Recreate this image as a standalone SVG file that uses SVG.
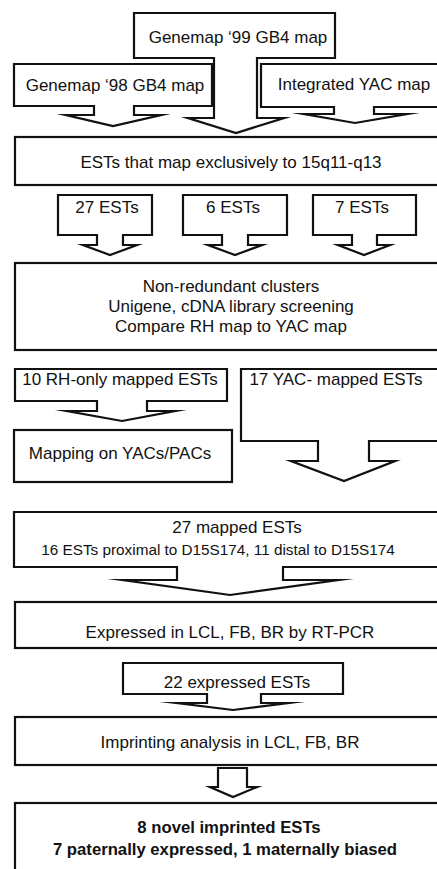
<svg xmlns="http://www.w3.org/2000/svg" width="437" height="869" viewBox="0 0 437 869">
<style>
.b{fill:#fff;stroke:#111;stroke-width:2.2;stroke-linejoin:miter;stroke-miterlimit:20}
.t{font-family:"Liberation Sans",Arial,sans-serif;font-size:17px;fill:#111;text-anchor:middle}
.bold{font-weight:bold;font-size:16.7px}
</style>
<rect width="437" height="869" fill="#fff"/>
<g id="n-genemap99">
<path class="b" d="M134,13 H335 V58 H257 V118 H284 L236,133 L188,118 H214 V58 H134 Z"/>
<text class="t" x="238" y="43">Genemap ‘99 GB4 map</text>
</g>
<g id="n-genemap98">
<path class="b" d="M14,64 H212 V106 H134 V115 H161 L113,126 L66,115 H94 V106 H14 Z"/>
<text class="t" x="115" y="91">Genemap ‘98 GB4 map</text>
</g>
<g id="n-yac">
<path class="b" d="M261,64 H442 V107 H374 V114 H407 L355,123 L304,114 H334 V107 H261 Z"/>
<text class="t" x="354" y="90">Integrated YAC map</text>
</g>
<g id="n-ests">
<rect class="b" x="15" y="137" width="427" height="48"/>
<text class="t" x="231" y="168">ESTs that map exclusively to 15q11-q13</text>
</g>
<g id="n-27ests">
<path class="b" d="M58,195 H152 V235 H123 V245 H137 L110,255 L83,245 H97 V235 H58 Z"/>
<text class="t" x="107" y="213">27 ESTs</text>
</g>
<g id="n-6ests">
<path class="b" d="M183,195 H287 V235 H248 V245 H262 L235,255 L208,245 H222 V235 H183 Z"/>
<text class="t" x="233" y="213">6 ESTs</text>
</g>
<g id="n-7ests">
<path class="b" d="M313,195 H416 V235 H377 V245 H390 L364,255 L338,245 H352 V235 H313 Z"/>
<text class="t" x="362" y="213">7 ESTs</text>
</g>
<g id="n-nonredundant">
<rect class="b" x="15" y="263" width="427" height="87"/>
<text class="t" x="231" y="292">Non-redundant clusters</text>
<text class="t" x="231" y="312">Unigene, cDNA library screening</text>
<text class="t" x="231" y="332">Compare RH map to YAC map</text>
</g>
<g id="n-rhonly">
<path class="b" d="M15,369 H227 V401 H147 V411 H175 L122,421 L67,411 H97 V401 H15 Z"/>
<text class="t" x="120" y="385">10 RH-only mapped ESTs</text>
</g>
<g id="n-yacmapped">
<path class="b" d="M241,369 H442 V441 H369 V461 H395 L344,481 L291,461 H318 V441 H241 Z"/>
<text class="t" x="336" y="385">17 YAC- mapped ESTs</text>
</g>
<g id="n-mapping">
<rect class="b" x="14" y="430" width="218" height="52"/>
<text class="t" x="120" y="459">Mapping on YACs/PACs</text>
</g>
<g id="n-27mapped">
<path class="b" d="M14,512 H442 V567 H283 V580 H338 L230,595 L123,580 H177 V567 H14 Z"/>
<text class="t" x="237" y="533">27 mapped ESTs</text>
<text class="t" x="218" y="555" style="font-size:15.3px">16 ESTs proximal to D15S174, 11 distal to D15S174</text>
</g>
<g id="n-expressed">
<rect class="b" x="15" y="602" width="427" height="46"/>
<text class="t" x="230" y="638">Expressed in LCL, FB, BR by RT-PCR</text>
</g>
<g id="n-22expressed">
<path class="b" d="M123,663 H343 V694 H261 V703 H288 L233,710 L177,703 H207 V694 H123 Z"/>
<text class="t" x="237" y="688">22 expressed ESTs</text>
</g>
<g id="n-imprinting">
<rect class="b" x="15" y="717" width="427" height="48"/>
<text class="t" x="230" y="748">Imprinting analysis in LCL, FB, BR</text>
</g>
<g id="connectors">
<path class="b" d="M218,768 H247 V787 H257 L233,797 L210,787 H218 Z"/>
</g>
<g id="n-final">
<rect class="b" x="15" y="803" width="427" height="80"/>
<text class="t bold" x="229" y="833">8 novel imprinted ESTs</text>
<text class="t bold" x="225" y="855">7 paternally expressed, 1 maternally biased</text>
</g>
</svg>
